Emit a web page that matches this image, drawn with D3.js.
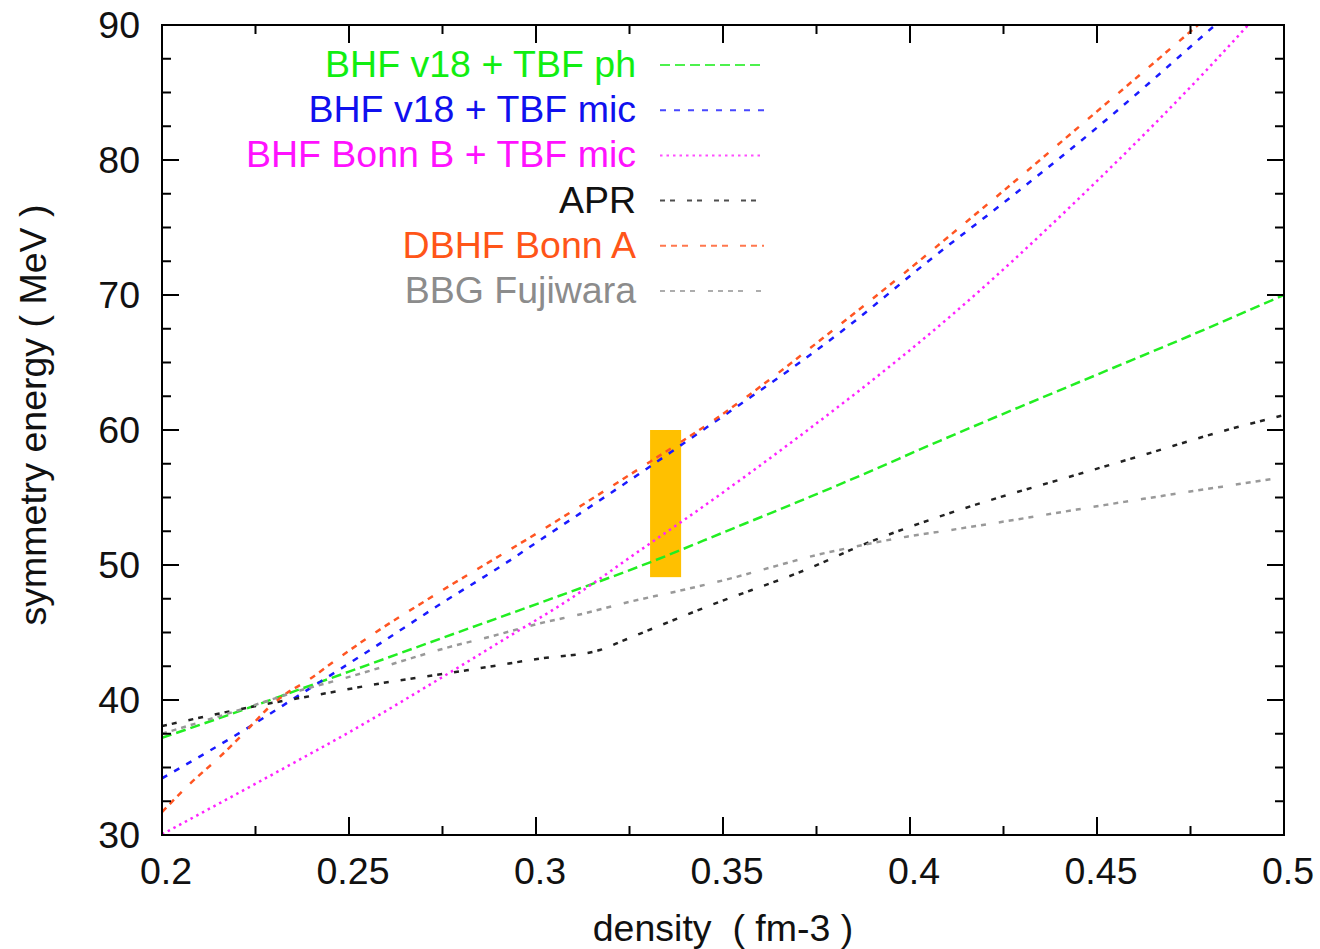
<!DOCTYPE html>
<html>
<head>
<meta charset="utf-8">
<script src="https://cdn.jsdelivr.net/npm/d3@7"></script>
<style>
  html, body { margin: 0; padding: 0; background: #fff; }
  svg { display: block; }
  text { font-family: "Liberation Sans", Arial, sans-serif; }
</style>
</head>
<body>
<svg id="chart" width="1320" height="949"></svg>
<script>
// Symmetry energy vs. baryon density for several many-body calculations.
const xTickValues = [0.2, 0.25, 0.3, 0.35, 0.4, 0.45, 0.5];
const xTickLabels = ["0.2", "0.25", "0.3", "0.35", "0.4", "0.45", "0.5"];
const yTickValues = [30, 40, 50, 60, 70, 80, 90];
const yTickLabels = ["30", "40", "50", "60", "70", "80", "90"];

// [density (fm^-3), symmetry energy (MeV)]
const bhfV18Ph = [[0.2,37.2],[0.225,39.6],[0.2369,40.8],[0.25,42.1],[0.275,44.6],[0.3011,47.2],[0.3305,50.2],[0.35,52.4],[0.384,56.3],[0.408,59.2],[0.45,64.1],[0.475,67.0],[0.5,70.0]];
const bhfV18Mic = [[0.2,34.2],[0.2227,37.9],[0.2369,40.4],[0.2556,43.7],[0.2761,47.4],[0.2917,50.1],[0.3011,51.85],[0.3305,57.3],[0.3394,59.0],[0.384,67.8],[0.4053,72.6],[0.4258,77.0],[0.45,82.4],[0.4816,90.0],[0.5,94.5]];
const bhfBonnBMic = [[0.2,30.05],[0.2369,35.6],[0.2503,37.65],[0.2748,41.67],[0.2948,45.05],[0.3064,47.0],[0.3305,51.6],[0.3394,53.3],[0.376,60.7],[0.384,62.4],[0.4107,68.4],[0.4446,77.0],[0.4904,90.0],[0.5,93.0]];
const apr = [[0.2,38.07],[0.2307,39.85],[0.2387,40.24],[0.2593,41.27],[0.2815,42.2],[0.3011,43.07],[0.3171,43.7],[0.3233,44.4],[0.3456,46.9],[0.376,50.1],[0.384,51.1],[0.408,53.6],[0.4214,54.8],[0.441,56.4],[0.4624,58.15],[0.4847,60.0],[0.5,61.1]];
const dbhfBonnA = [[0.2,31.7],[0.2075,33.8],[0.2155,35.8],[0.2235,38.0],[0.2284,39.4],[0.2333,40.5],[0.2387,41.4],[0.2467,43.0],[0.256,44.8],[0.2713,47.5],[0.3011,52.5],[0.3305,57.65],[0.3474,60.7],[0.384,68.4],[0.4245,77.6],[0.45,83.6],[0.477,90.0],[0.5,95.5]];
const bbgFujiwara = [[0.2,37.5],[0.22,39.2],[0.2369,40.7],[0.2503,41.73],[0.2627,42.76],[0.2752,43.8],[0.2877,44.69],[0.3011,45.68],[0.3127,46.4],[0.3251,47.28],[0.338,48.07],[0.351,48.93],[0.3634,49.87],[0.375,50.74],[0.3875,51.48],[0.3991,52.1],[0.408,52.47],[0.4624,54.9],[0.5,56.5]];

const seriesNames = ["BHF v18 + TBF ph", "BHF v18 + TBF mic", "BHF Bonn B + TBF mic", "APR", "DBHF Bonn A", "BBG Fujiwara"];
const seriesData = [bhfV18Ph, bhfV18Mic, bhfBonnBMic, apr, dbhfBonnA, bbgFujiwara];

// Constraint band
const bandDensity = [0.3305, 0.3388];
const bandEnergy = [49.1, 60.0];

// Styling per series
const lineColors = ["#22ee22", "#1a1aff", "#ff22ff", "#222222", "#ff5522", "#999999"];
const textColors = ["#11ee11", "#1010ee", "#ff11ff", "#111111", "#ff5518", "#8c8c8c"];
const dashes = ["10,5", "6,8", "2.5,4", "5,5,5,12", "6,5,6,5,6,12", "5,5,5,5,5,5,5,13"];

const svg = d3.select("#chart");
const plotLeft = 162, plotRight = 1284, plotTop = 25, plotBottom = 835;
const fontSize = 37.5;

const x = d3.scaleLinear().domain([0.2, 0.5]).range([plotLeft, plotRight]);
const y = d3.scaleLinear().domain([30, 90]).range([plotBottom, plotTop]);

svg.append("defs").append("clipPath").attr("id", "plotClip")
  .append("rect").attr("x", plotLeft).attr("y", plotTop)
  .attr("width", plotRight - plotLeft).attr("height", plotBottom - plotTop);

// constraint band
svg.append("rect")
  .attr("x", x(bandDensity[0])).attr("width", x(bandDensity[1]) - x(bandDensity[0]))
  .attr("y", y(bandEnergy[1])).attr("height", y(bandEnergy[0]) - y(bandEnergy[1]))
  .attr("fill", "#ffc000");

// curves
const line = d3.line().x(d => x(d[0])).y(d => y(d[1])).curve(d3.curveMonotoneX);
const curves = svg.append("g").attr("clip-path", "url(#plotClip)");
seriesData.forEach((data, i) => {
  curves.append("path")
    .attr("d", line(data))
    .attr("fill", "none")
    .attr("stroke", lineColors[i])
    .attr("stroke-width", 2.5)
    .attr("stroke-dasharray", dashes[i]);
});

// axes with inward ticks on all four sides
const minorX = d3.range(0.225, 0.5, 0.05);
const minorY = d3.range(32.5, 90, 2.5).filter(v => Math.abs(v % 10) > 0.01);
const axisG = svg.append("g").attr("stroke", "#000").attr("stroke-width", 2);
xTickValues.forEach(v => {
  axisG.append("line").attr("x1", x(v)).attr("x2", x(v)).attr("y1", plotBottom).attr("y2", plotBottom - 18);
  axisG.append("line").attr("x1", x(v)).attr("x2", x(v)).attr("y1", plotTop).attr("y2", plotTop + 18);
});
minorX.forEach(v => {
  axisG.append("line").attr("x1", x(v)).attr("x2", x(v)).attr("y1", plotBottom).attr("y2", plotBottom - 9);
  axisG.append("line").attr("x1", x(v)).attr("x2", x(v)).attr("y1", plotTop).attr("y2", plotTop + 9);
});
yTickValues.forEach(v => {
  axisG.append("line").attr("x1", plotLeft).attr("x2", plotLeft + 17).attr("y1", y(v)).attr("y2", y(v));
  axisG.append("line").attr("x1", plotRight).attr("x2", plotRight - 17).attr("y1", y(v)).attr("y2", y(v));
});
minorY.forEach(v => {
  axisG.append("line").attr("x1", plotLeft).attr("x2", plotLeft + 9).attr("y1", y(v)).attr("y2", y(v));
  axisG.append("line").attr("x1", plotRight).attr("x2", plotRight - 9).attr("y1", y(v)).attr("y2", y(v));
});
svg.append("rect").attr("x", plotLeft).attr("y", plotTop)
  .attr("width", plotRight - plotLeft).attr("height", plotBottom - plotTop)
  .attr("fill", "none").attr("stroke", "#000").attr("stroke-width", 2);

// tick labels
svg.append("g").selectAll("text").data(xTickValues).join("text")
  .attr("x", d => x(d) + 4).attr("y", 884)
  .attr("text-anchor", "middle").attr("font-size", fontSize).attr("fill", "#111")
  .text((d, i) => xTickLabels[i]);
svg.append("g").selectAll("text").data(yTickValues).join("text")
  .attr("x", 140).attr("y", d => y(d) + 13)
  .attr("text-anchor", "end").attr("font-size", fontSize).attr("fill", "#111")
  .text((d, i) => yTickLabels[i]);

// axis titles
svg.append("text").attr("x", 723).attr("y", 941).attr("text-anchor", "middle")
  .attr("font-size", fontSize).attr("fill", "#111").style("white-space", "pre")
  .text("density  ( fm-3 )");
svg.append("text").attr("transform", "translate(46,415) rotate(-90)").attr("text-anchor", "middle")
  .attr("font-size", fontSize).attr("fill", "#111")
  .text("symmetry energy ( MeV )");

// legend
const legend = svg.append("g");
seriesNames.forEach((name, i) => {
  const cy = 64 + i * 45.2;
  legend.append("text").attr("x", 636).attr("y", cy + 13).attr("text-anchor", "end")
    .attr("font-size", fontSize).attr("fill", textColors[i]).text(name);
  legend.append("line").attr("x1", 660).attr("x2", 764).attr("y1", cy + 1).attr("y2", cy + 1)
    .attr("stroke", lineColors[i]).attr("stroke-width", 2).attr("stroke-opacity", 0.8)
    .attr("stroke-dasharray", dashes[i]);
});
</script>
</body>
</html>
